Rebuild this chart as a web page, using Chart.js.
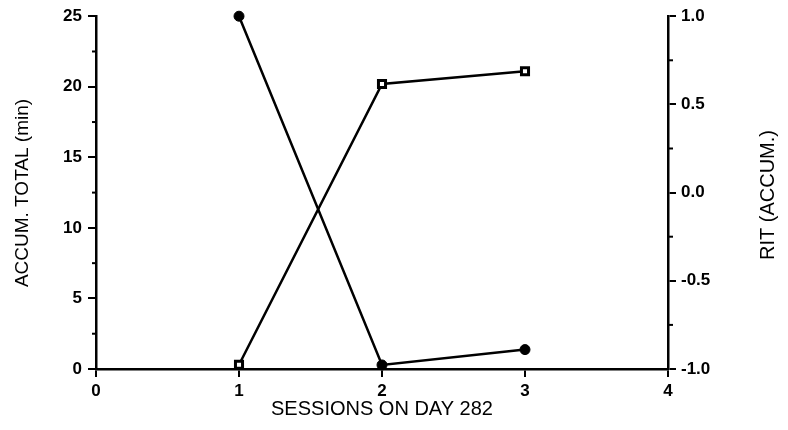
<!DOCTYPE html>
<html>
<head>
<meta charset="utf-8">
<script src="https://cdn.jsdelivr.net/npm/chart.js@4.4.1/dist/chart.umd.min.js"></script>
<style>
  html, body { margin: 0; padding: 0; background: #fff; }
  canvas { display: block; }
</style>
</head>
<body>
<canvas id="ritChart" width="788" height="430"></canvas>
<script>
// sessions on day 282
const sessions = [1, 2, 3];
// accumulated total (min), open squares, left axis
const accumTotal = [0.3, 20.2, 21.1];
// RIT (accum.), filled circles, right axis
const ritAccum = [1.0, -0.977, -0.89];

const leftMinor = [2.5, 7.5, 12.5, 17.5, 22.5];
const rightMinor = [-0.75, -0.25, 0.25, 0.75];

const FONT = "'Liberation Sans', Arial, sans-serif";

function drawVertTitle(ctx, text, x, y, size) {
  ctx.save();
  ctx.fillStyle = "#000";
  ctx.font = `${size}px ${FONT}`;
  ctx.textAlign = "center";
  ctx.textBaseline = "middle";
  ctx.translate(x, y);
  ctx.rotate(-Math.PI / 2);
  ctx.fillText(text, 0, 0);
  ctx.restore();
}

// short minor ticks + rotated y titles
const extras = {
  id: "extras",
  afterDraw(chart) {
    const { ctx, scales: { y, y1 }, chartArea } = chart;
    ctx.save();
    ctx.strokeStyle = "#000";
    ctx.lineWidth = 2;
    leftMinor.forEach((v) => {
      const py = y.getPixelForValue(v);
      ctx.beginPath();
      ctx.moveTo(chartArea.left - 4, py);
      ctx.lineTo(chartArea.left + 1, py);
      ctx.stroke();
    });
    rightMinor.forEach((v) => {
      const py = y1.getPixelForValue(v);
      ctx.beginPath();
      ctx.moveTo(chartArea.right - 1, py);
      ctx.lineTo(chartArea.right + 5, py);
      ctx.stroke();
    });
    ctx.restore();
    drawVertTitle(ctx, "ACCUM. TOTAL (min)", 23, 193, 19);
    drawVertTitle(ctx, "RIT (ACCUM.)", 768, 195, 20);
  },
};

const tickFont = { family: FONT, size: 17, weight: "bold" };

new Chart(document.getElementById("ritChart"), {
  type: "line",
  data: {
    datasets: [
      {
        label: "ACCUM. TOTAL",
        data: sessions.map((s, i) => ({ x: s, y: accumTotal[i] })),
        yAxisID: "y",
        borderColor: "#000",
        borderWidth: 2.5,
        pointStyle: "rect",
        pointRadius: 5,
        pointBorderWidth: 3,
        pointBackgroundColor: "#fff",
        pointBorderColor: "#000",
        tension: 0,
      },
      {
        label: "RIT",
        data: sessions.map((s, i) => ({ x: s, y: ritAccum[i] })),
        yAxisID: "y1",
        borderColor: "#000",
        borderWidth: 2.5,
        pointStyle: "circle",
        pointRadius: 5,
        pointBorderWidth: 1,
        pointBackgroundColor: "#000",
        pointBorderColor: "#000",
        tension: 0,
      },
    ],
  },
  options: {
    responsive: false,
    animation: false,
    clip: false,
    layout: { padding: { top: 16, bottom: 0 } },
    plugins: { legend: { display: false }, tooltip: { enabled: false } },
    scales: {
      x: {
        type: "linear",
        min: 0,
        max: 4,
        ticks: { stepSize: 1, color: "#000", font: tickFont, padding: 4 },
        grid: { drawOnChartArea: false, color: "#000", lineWidth: 2, tickLength: 8 },
        border: { display: true, color: "#000", width: 2.5 },
        title: {
          display: true,
          text: "SESSIONS ON DAY 282",
          color: "#000",
          font: { family: FONT, size: 20 },
          padding: { top: 0, bottom: 9 },
        },
        afterFit(scale) { scale.height = 61; },
      },
      y: {
        position: "left",
        min: 0,
        max: 25,
        ticks: { stepSize: 5, color: "#000", font: tickFont, padding: 6 },
        grid: { drawOnChartArea: false, color: "#000", lineWidth: 2, tickLength: 8 },
        border: { display: true, color: "#000", width: 2.5 },
        afterFit(scale) { scale.width = 96; },
      },
      y1: {
        position: "right",
        min: -1,
        max: 1,
        ticks: {
          stepSize: 0.5,
          color: "#000",
          font: tickFont,
          padding: 5,
          callback: (v) => Number(v).toFixed(1),
        },
        grid: { drawOnChartArea: false, color: "#000", lineWidth: 2, tickLength: 8 },
        border: { display: true, color: "#000", width: 2.5 },
        afterFit(scale) { scale.width = 120; },
      },
    },
  },
  plugins: [extras],
});
</script>
</body>
</html>
